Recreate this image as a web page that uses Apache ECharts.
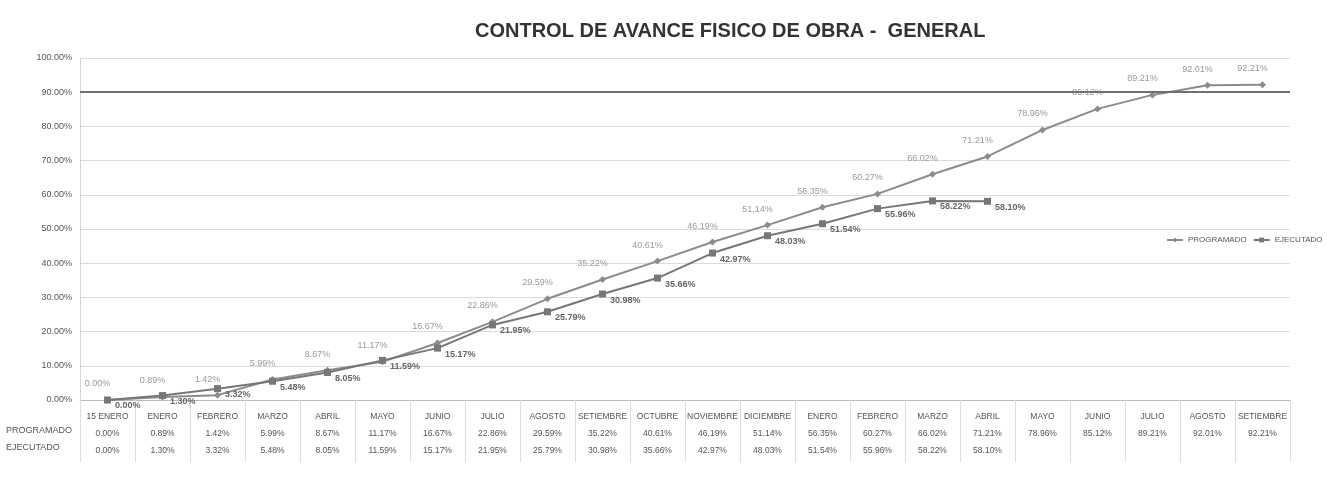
<!DOCTYPE html>
<html>
<head>
<meta charset="utf-8">
<script src="https://cdn.jsdelivr.net/npm/echarts@6/dist/echarts.min.js"></script>
<style>
html,body{margin:0;padding:0;background:#fff;}
#chart{width:1327px;height:493px;}
</style>
</head>
<body>
<div id="chart"></div>
<script>
const categories = ['15 ENERO','ENERO','FEBRERO','MARZO','ABRIL','MAYO','JUNIO','JULIO','AGOSTO','SETIEMBRE','OCTUBRE','NOVIEMBRE','DICIEMBRE','ENERO','FEBRERO','MARZO','ABRIL','MAYO','JUNIO','JULIO','AGOSTO','SETIEMBRE'];
const programado = [0.00,0.89,1.42,5.99,8.67,11.17,16.67,22.86,29.59,35.22,40.61,46.19,51.14,56.35,60.27,66.02,71.21,78.96,85.12,89.21,92.01,92.21];
const ejecutado = [0.00,1.30,3.32,5.48,8.05,11.59,15.17,21.95,25.79,30.98,35.66,42.97,48.03,51.54,55.96,58.22,58.10,null,null,null,null,null];
const referenceLine = 90;

const pct = v => (v == null ? '' : v.toFixed(2) + '%');
const font = "'Liberation Sans Narrow','Liberation Sans',Arial,sans-serif";

const chart = echarts.init(document.getElementById('chart'));
chart.setOption({
  animation: false,
  backgroundColor: '#fff',
  title: {
    text: 'CONTROL DE AVANCE FISICO DE OBRA -  GENERAL',
    left: 470, top: 16,
    textStyle: {fontFamily: font, fontSize: 20, fontWeight: 'bold', color: '#333'}
  },
  legend: {
    orient: 'horizontal',
    left: 1166, top: 236, width: 161, padding: 0, itemGap: 6, itemWidth: 16, itemHeight: 6,
    textStyle: {fontFamily: font, fontSize: 8, color: '#555'},
    data: ['PROGRAMADO', 'EJECUTADO']
  },
  grid: {left: 80, right: 37, top: 58, bottom: 93},
  xAxis: {
    type: 'category',
    data: categories,
    boundaryGap: true,
    axisLine: {lineStyle: {color: '#bbb'}},
    axisTick: {show: true, length: 62, lineStyle: {color: '#ddd'}},
    axisLabel: {
      interval: 0, margin: 8, fontFamily: font, fontSize: 8.5, color: '#555', lineHeight: 17,
      formatter: (v, i) => v + '\n' + pct(programado[i]) + '\n' + pct(ejecutado[i])
    },
    splitLine: {show: false}
  },
  yAxis: {
    type: 'value', min: 0, max: 100, interval: 10,
    axisLine: {show: true, lineStyle: {color: '#ccc', type: 'dotted'}},
    axisTick: {show: false},
    axisLabel: {fontFamily: font, fontSize: 9, color: '#555', formatter: v => v.toFixed(2) + '%'},
    splitLine: {lineStyle: {color: '#dcdcdc', width: 1}}
  },
  graphic: [
    {type: 'text', left: 6, top: 426, style: {text: 'PROGRAMADO', font: '9px ' + font, fill: '#555'}},
    {type: 'text', left: 6, top: 443, style: {text: 'EJECUTADO', font: '9px ' + font, fill: '#555'}}
  ],
  series: [
    {
      name: 'PROGRAMADO', type: 'line', data: programado,
      symbol: 'diamond', symbolSize: 7,
      itemStyle: {color: '#8c8c8c'},
      lineStyle: {color: '#8c8c8c', width: 2},
      label: {show: true, position: 'top', distance: 8, offset: [-10, 0], fontFamily: font, fontSize: 9, color: '#999', formatter: p => pct(p.value)},
      markLine: {
        silent: true, symbol: 'none',
        lineStyle: {color: '#707070', width: 2, type: 'solid'},
        label: {show: false},
        data: [{yAxis: referenceLine}]
      },
      z: 3
    },
    {
      name: 'EJECUTADO', type: 'line', data: ejecutado,
      symbol: 'rect', symbolSize: 7,
      itemStyle: {color: '#777'},
      lineStyle: {color: '#777', width: 2},
      label: {show: true, position: 'right', distance: 4, offset: [0, 6], fontFamily: font, fontSize: 9, color: '#666', fontWeight: 'bold', formatter: p => pct(p.value)},
      z: 4
    }
  ]
});
</script>
</body>
</html>
